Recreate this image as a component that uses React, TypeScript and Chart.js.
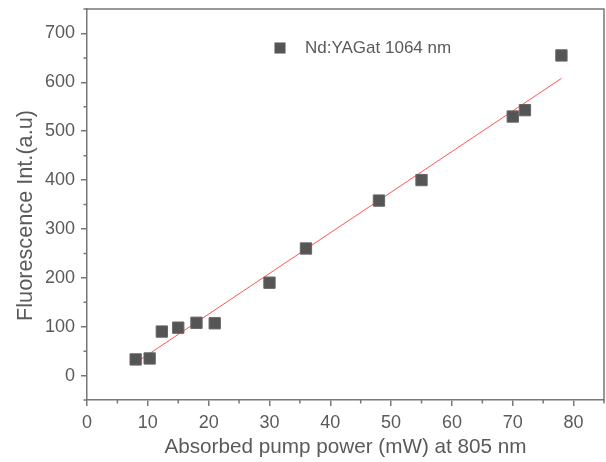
import { useEffect, useRef } from 'react';
import { Chart, registerables } from 'chart.js';

Chart.register(...registerables);

// Data
const pumpPower = [8, 10.3, 12.3, 15, 18, 21, 30, 36, 48, 55, 70, 72, 78];
const fluorescence = [33, 35, 90, 98, 108, 107, 190, 260, 358, 400, 530, 543, 655];
const fitX = [8, 78];
const fitY = [26, 608];
const xTicks = [0, 10, 20, 30, 40, 50, 60, 70, 80];
const xMinorTicks = [5, 15, 25, 35, 45, 55, 65, 75, 85];
const yTicks = [0, 100, 200, 300, 400, 500, 600, 700];
const yMinorTicks = [-50, 50, 150, 250, 350, 450, 550, 650, 750];
const seriesLabel = 'Nd:YAGat 1064 nm';
const xTitle = 'Absorbed pump power (mW) at 805 nm';
const yTitle = 'Fluorescence Int.(a.u)';

const FONT = 'Arial, "Liberation Sans", sans-serif';
const TEXT = '#5a5a5a';
const AXIS = '#777777';
const MARK = '#555555';
const FIT = 'rgb(255, 85, 85)';

const decor = {
  id: 'decor',
  afterLayout(chart: any) {
    const ys = chart.scales.y;
    if (ys && !ys.__shifted) {
      const orig = ys.drawTitle.bind(ys);
      ys.drawTitle = (...args: any[]) => {
        const c = chart.ctx;
        c.save();
        c.translate(0, 11);
        orig(...args);
        c.restore();
      };
      ys.__shifted = true;
    }
  },
  afterDraw(chart: any) {
    const { ctx, chartArea } = chart;
    const { left, right, top, bottom } = chartArea;
    const xs = chart.scales.x;
    const ys = chart.scales.y;
    ctx.save();
    ctx.strokeStyle = AXIS;
    ctx.lineWidth = 1.5;
    ctx.beginPath();
    ctx.moveTo(left, top);
    ctx.lineTo(right, top);
    ctx.lineTo(right, bottom);
    ctx.stroke();
    ctx.beginPath();
    xMinorTicks.forEach((v) => {
      const px = xs.getPixelForValue(v);
      ctx.moveTo(px, bottom);
      ctx.lineTo(px, bottom + 3.5);
    });
    yMinorTicks.forEach((v) => {
      const py = ys.getPixelForValue(v);
      ctx.moveTo(left, py);
      ctx.lineTo(left - 3.5, py);
    });
    ctx.stroke();
    // legend
    const lx = left + 193;
    const ly = top + 39;
    ctx.fillStyle = MARK;
    ctx.fillRect(lx - 5.5, ly - 5.5, 11, 11);
    ctx.fillStyle = TEXT;
    ctx.font = `17px ${FONT}`;
    ctx.textBaseline = 'middle';
    ctx.textAlign = 'left';
    ctx.fillText(seriesLabel, lx + 25, ly);
    ctx.restore();
  },
};

export default function App() {
  const ref = useRef<HTMLCanvasElement | null>(null);
  useEffect(() => {
    document.body.style.margin = '0';
    const canvas = ref.current;
    if (!canvas) return;
    const chart = new Chart(canvas, {
      type: 'scatter',
      data: {
        datasets: [
          {
            label: seriesLabel,
            data: pumpPower.map((x, i) => ({ x, y: fluorescence[i] })),
            pointStyle: 'rect',
            pointRadius: 8,
            backgroundColor: MARK,
            borderColor: '#666666',
            borderWidth: 1,
            order: 0,
          },
          {
            type: 'line',
            label: 'fit',
            data: fitX.map((x, i) => ({ x, y: fitY[i] })),
            borderColor: FIT,
            borderWidth: 1,
            pointRadius: 0,
            showLine: true,
            fill: false,
            order: 1,
          } as any,
        ],
      },
      options: {
        animation: false,
        responsive: false,
        events: [],
        layout: { autoPadding: false, padding: { top: 9, right: 2, left: 0, bottom: 0 } },
        plugins: {
          legend: { display: false },
          tooltip: { enabled: false },
        },
        scales: {
          x: {
            type: 'linear',
            min: 0,
            max: 85,
            afterBuildTicks: (scale: any) => {
              scale.ticks = xTicks.map((v) => ({ value: v }));
            },
            afterFit: (scale: any) => {
              scale.height = 62;
              scale.paddingLeft = 0;
              scale.paddingRight = 0;
            },
            ticks: { color: TEXT, font: { family: FONT, size: 18 }, padding: 6, maxRotation: 0 },
            grid: { drawOnChartArea: false, drawTicks: true, tickLength: 6, color: AXIS, lineWidth: 1.5 },
            border: { display: true, color: AXIS, width: 1.5 },
            title: {
              display: true,
              text: xTitle,
              color: TEXT,
              font: { family: FONT, size: 20.7 },
              padding: { top: 0, bottom: 2 },
            },
          },
          y: {
            type: 'linear',
            min: -50,
            max: 750,
            afterBuildTicks: (scale: any) => {
              scale.ticks = yTicks.map((v) => ({ value: v }));
            },
            afterFit: (scale: any) => {
              scale.width = 87;
              scale.paddingTop = 0;
              scale.paddingBottom = 0;
            },
            ticks: { color: TEXT, font: { family: FONT, size: 18 }, padding: 6 },
            grid: { drawOnChartArea: false, drawTicks: true, tickLength: 6, color: AXIS, lineWidth: 1.5 },
            border: { display: true, color: AXIS, width: 1.5 },
            title: {
              display: true,
              text: yTitle,
              color: TEXT,
              font: { family: FONT, size: 21.7 },
              padding: { top: 13, bottom: 0 },
            },
          },
        },
      },
      plugins: [decor],
    });
    return () => chart.destroy();
  }, []);
  return (
    <div style={{ width: 606, height: 462, background: '#ffffff' }}>
      <canvas ref={ref} width={606} height={462} style={{ display: 'block' }} />
    </div>
  );
}
